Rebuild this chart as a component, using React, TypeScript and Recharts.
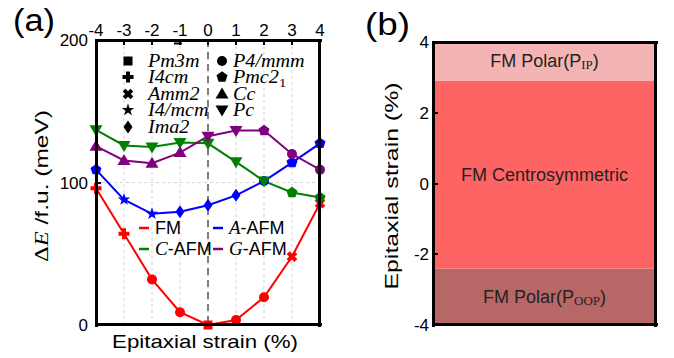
import React from 'react';
import { LineChart, ComposedChart, Line, Area, Scatter, XAxis, YAxis, CartesianGrid, ReferenceLine } from 'recharts';

const SANS = '"Liberation Sans", Arial, sans-serif';
const SERIF = '"Liberation Serif", "Times New Roman", serif';

// panel (a): energy vs strain
const strains = [-4, -3, -2, -1, 0, 1, 2, 3, 4];
const energyTicks = [0, 100, 200];
const fmEnergy = [96, 64, 32, 9, 0, 3.5, 19.5, 48, 85.5];
const aAfmEnergy = [109, 88, 78, 79.5, 84, 91, 101, 114, 127.5];
const cAfmEnergy = [137, 126, 125, 128, 127.5, 114.5, 101, 93, 89.5];
const gAfmEnergy = [125.5, 115.5, 113.5, 121, 132.5, 136.5, 136.5, 120, 109];

const fmMarkers = ['plus', 'plus', 'circle', 'circle', 'square', 'circle', 'circle', 'cross', 'cross'];
const aAfmMarkers = ['pentagon', 'star', 'star', 'diamond', 'diamond', 'diamond', 'circle', 'pentagon', 'pentagon'];
const cAfmMarkers = ['triDown', 'triDown', 'triDown', 'triDown', 'triDown', 'triDown', 'triDown', 'pentagon', 'pentagon'];
const gAfmMarkers = ['triUp', 'triUp', 'triUp', 'triUp', 'triDown', 'triDown', 'pentagon', 'circle', 'circle'];

const series = [
  { key: 'fm', label: 'FM', italic: '', color: '#ff0000', values: fmEnergy, markers: fmMarkers },
  { key: 'aafm', label: '-AFM', italic: 'A', color: '#0000ff', values: aAfmEnergy, markers: aAfmMarkers },
  { key: 'cafm', label: '-AFM', italic: 'C', color: '#008000', values: cAfmEnergy, markers: cAfmMarkers },
  { key: 'gafm', label: '-AFM', italic: 'G', color: '#800080', values: gAfmEnergy, markers: gAfmMarkers },
];

const spaceGroupsLeft = [
  { shape: 'square', name: 'Pm3m', sub: '' },
  { shape: 'plus', name: 'I4cm', sub: '' },
  { shape: 'cross', name: 'Amm2', sub: '' },
  { shape: 'star', name: 'I4/mcm', sub: '' },
  { shape: 'diamond', name: 'Ima2', sub: '' },
];
const spaceGroupsRight = [
  { shape: 'circle', name: 'P4/mmm', sub: '' },
  { shape: 'pentagon', name: 'Pmc2', sub: '1' },
  { shape: 'triUp', name: 'Cc', sub: '' },
  { shape: 'triDown', name: 'Pc', sub: '' },
];

// panel (b): phase ranges along strain
const strainTicks = [-4, -2, 0, 2, 4];
const phases = [
  { key: 'oop', name: 'FM Polar(P', sub: 'OOP', from: -4, to: -2.4, color: '#b86767' },
  { key: 'cen', name: 'FM Centrosymmetric', sub: '', from: -2.4, to: 2.9, color: '#ff6464' },
  { key: 'ip', name: 'FM Polar(P', sub: 'IP', from: 2.9, to: 4, color: '#f4b4b4' },
];

const chartData = strains.map((s, i) => {
  const row: Record<string, number> = { strain: s };
  series.forEach((sr) => { row[sr.key] = sr.values[i]; });
  return row;
});

const phaseData = [0, 1].map((x) => {
  const row: Record<string, any> = { x };
  phases.forEach((p) => { row[p.key] = [p.from, p.to]; });
  return row;
});
const phaseLabelData = phases.map((p) => ({ x: 0.5, mid: (p.from + p.to) / 2, name: p.name, sub: p.sub }));

// plot boxes (page pixels), shared by chart margins and the frames
const boxA = { left: 96, top: 40, right: 320, bottom: 325 };
const boxB = { left: 433, top: 42, right: 656, bottom: 325 };

function polygon(n: number, r: number, cx: number, cy: number, rot = -Math.PI / 2) {
  const pts: string[] = [];
  for (let i = 0; i < n; i++) {
    const a = rot + (i * 2 * Math.PI) / n;
    pts.push(`${cx + r * Math.cos(a)},${cy + r * Math.sin(a)}`);
  }
  return pts.join(' ');
}

function starPts(cx: number, cy: number, ro: number, ri: number) {
  const pts: string[] = [];
  for (let i = 0; i < 10; i++) {
    const a = -Math.PI / 2 + (i * Math.PI) / 5;
    const r = i % 2 === 0 ? ro : ri;
    pts.push(`${cx + r * Math.cos(a)},${cy + r * Math.sin(a)}`);
  }
  return pts.join(' ');
}

function plusPts(cx: number, cy: number, l: number, w: number) {
  const p = [
    [-w, -l], [w, -l], [w, -w], [l, -w], [l, w], [w, w], [w, l], [-w, l], [-w, w], [-l, w], [-l, -w], [-w, -w],
  ];
  return p.map(([x, y]) => `${cx + x},${cy + y}`).join(' ');
}

const Marker = ({ shape, cx, cy, color }: { shape: string; cx: number; cy: number; color: string }) => {
  if (cx == null || cy == null) return null;
  switch (shape) {
    case 'square':
      return <rect x={cx - 4.5} y={cy - 4.5} width={9} height={9} fill={color} />;
    case 'circle':
      return <circle cx={cx} cy={cy} r={5} fill={color} />;
    case 'plus':
      return <polygon points={plusPts(cx, cy, 5.5, 2)} fill={color} />;
    case 'cross':
      return <polygon points={plusPts(cx, cy, 5.5, 2)} fill={color} transform={`rotate(45 ${cx} ${cy})`} />;
    case 'star':
      return <polygon points={starPts(cx, cy, 6.5, 2.6)} fill={color} />;
    case 'diamond':
      return <polygon points={`${cx},${cy - 6.5} ${cx + 4.5},${cy} ${cx},${cy + 6.5} ${cx - 4.5},${cy}`} fill={color} />;
    case 'pentagon':
      return <polygon points={polygon(5, 5.8, cx, cy)} fill={color} />;
    case 'triUp':
      return <polygon points={`${cx},${cy - 6.5} ${cx + 6.5},${cy + 4.5} ${cx - 6.5},${cy + 4.5}`} fill={color} />;
    case 'triDown':
      return <polygon points={`${cx},${cy + 6.5} ${cx + 6.5},${cy - 4.5} ${cx - 6.5},${cy - 4.5}`} fill={color} />;
    default:
      return null;
  }
};

const TopTick = (props: any) => {
  const { x, y, payload } = props;
  return <text x={x} y={y} textAnchor="middle" fontSize={17} fontFamily={SANS} fill="#000">{payload.value}</text>;
};

const LeftTick = (props: any) => {
  const { x, y, payload } = props;
  return <text x={x} y={y} dy={6} textAnchor="end" fontSize={17} fontFamily={SANS} fill="#000">{payload.value}</text>;
};

const BandLabel = (props: any) => {
  const { cx, cy, payload } = props;
  if (cx == null || cy == null) return <g />;
  return (
    <text x={cx} y={cy + 6} textAnchor="middle" fontSize={18} fontFamily={SANS} fill="#222">
      {payload.name}
      {payload.sub ? (
        <>
          <tspan fontFamily={SERIF} fontSize={13} dy={2}>{payload.sub}</tspan>
          <tspan dy={-2}>)</tspan>
        </>
      ) : null}
    </text>
  );
};

const EnergyPanel = () => (
  <LineChart
    width={340}
    height={358}
    data={chartData}
    margin={{ top: boxA.top - 30, right: 340 - boxA.right, bottom: 358 - boxA.bottom, left: boxA.left - 40 }}
  >
    <CartesianGrid stroke="#d4d4d4" strokeDasharray="3 3" />
    <XAxis
      dataKey="strain"
      type="number"
      orientation="top"
      domain={[-4, 4]}
      ticks={strains}
      height={30}
      tickSize={0}
      tickMargin={4}
      axisLine={false}
      tick={<TopTick />}
    />
    <YAxis
      type="number"
      domain={[0, 200]}
      ticks={energyTicks}
      width={40}
      tickSize={0}
      tickMargin={8}
      axisLine={false}
      tick={<LeftTick />}
    />
    <ReferenceLine x={0} stroke="#808080" strokeWidth={2} strokeDasharray="7 5" />
    {series.map((s) => (
      <Line
        key={s.key}
        dataKey={s.key}
        type="linear"
        stroke={s.color}
        strokeWidth={2}
        isAnimationActive={false}
        dot={(p: any) => <Marker key={`${s.key}-${p.index}`} shape={s.markers[p.index]} cx={p.cx} cy={p.cy} color={s.color} />}
        activeDot={false}
      />
    ))}
  </LineChart>
);

const PhasePanel = () => (
  <ComposedChart
    width={334}
    height={358}
    data={phaseData}
    margin={{ top: boxB.top, right: 674 - boxB.right, bottom: 358 - boxB.bottom, left: boxB.left - 340 - 40 }}
  >
    <XAxis dataKey="x" type="number" domain={[0, 1]} hide />
    <YAxis
      type="number"
      domain={[-4, 4]}
      ticks={strainTicks}
      width={40}
      tickSize={0}
      tickMargin={4}
      axisLine={false}
      tick={<LeftTick />}
    />
    {phases.map((p) => (
      <Area
        key={p.key}
        dataKey={p.key}
        type="linear"
        fill={p.color}
        fillOpacity={1}
        stroke="none"
        isAnimationActive={false}
        dot={false}
        activeDot={false}
      />
    ))}
    <Scatter data={phaseLabelData} dataKey="mid" isAnimationActive={false} shape={<BandLabel />} />
  </ComposedChart>
);

// solid black bars laid over the plots: frame edges and inward tick marks
const Bar = ({ x, y, w, h }: { x: number; y: number; w: number; h: number }) => (
  <div
    style={{
      position: 'absolute',
      left: Math.round(x),
      top: Math.round(y),
      width: Math.round(w),
      height: Math.round(h),
      background: '#000',
      zIndex: 30,
      pointerEvents: 'none',
    }}
  />
);

const FrameBars = ({ box, id }: { box: typeof boxA; id: string }) => {
  const w = box.right - box.left;
  const h = box.bottom - box.top;
  return (
    <>
      <Bar key={`${id}l`} x={box.left - 1} y={box.top - 1} w={3} h={h + 3} />
      <Bar key={`${id}r`} x={box.right - 2} y={box.top - 1} w={3} h={h + 3} />
      <Bar key={`${id}t`} x={box.left - 1} y={box.top - 1} w={w + 3} h={3} />
      <Bar key={`${id}b`} x={box.left - 1} y={box.bottom - 2} w={w + 3} h={3} />
    </>
  );
};

const Overlay = () => {
  const rowY = [61, 77, 94, 110, 127];
  return (
    <svg width={674} height={358} style={{ position: 'absolute', left: 0, top: 0, zIndex: 10, pointerEvents: 'none' }}>
      <text x={13} y={31} fontSize={31} fontFamily={SANS} textLength={42} lengthAdjust="spacingAndGlyphs">(a)</text>
      <text x={365} y={35} fontSize={31} fontFamily={SANS} textLength={45} lengthAdjust="spacingAndGlyphs">(b)</text>

      <text transform="translate(48,186) rotate(-90)" textAnchor="middle" fontSize={19} fontFamily={SANS} textLength={152} lengthAdjust="spacingAndGlyphs">
        <tspan fontFamily={SERIF}>Δ</tspan>
        <tspan fontFamily={SERIF} fontStyle="italic">E</tspan>
        <tspan> /f.u. (meV)</tspan>
      </text>
      <text x={205} y={348} textAnchor="middle" fontSize={19} fontFamily={SANS} textLength={186} lengthAdjust="spacingAndGlyphs">Epitaxial strain (%)</text>
      <text transform="translate(398,186) rotate(-90)" textAnchor="middle" fontSize={19} fontFamily={SANS} textLength={207} lengthAdjust="spacingAndGlyphs">Epitaxial strain (%)</text>

      {spaceGroupsLeft.map((g, i) => (
        <g key={g.name}>
          <Marker shape={g.shape} cx={128} cy={rowY[i]} color="#000" />
          <text transform={`translate(148,${rowY[i] + 6}) scale(1.12,1)`} fontSize={18} fontFamily={SERIF} fontStyle="italic">{g.name}</text>
        </g>
      ))}
      <line x1={174} x2={182} y1={43.5} y2={43.5} stroke="#000" strokeWidth={2} />
      {spaceGroupsRight.map((g, i) => (
        <g key={g.name}>
          <Marker shape={g.shape} cx={222} cy={rowY[i]} color="#000" />
          <text transform={`translate(233,${rowY[i] + 6}) scale(1.12,1)`} fontSize={18} fontFamily={SERIF} fontStyle="italic">
            {g.name}
            {g.sub ? <tspan fontStyle="normal" fontSize={13} dy={4}>{g.sub}</tspan> : null}
          </text>
        </g>
      ))}

      {series.map((s, i) => {
        const x = i % 2 === 0 ? 139 : 213;
        const y = i < 2 ? 228 : 249;
        return (
          <g key={s.key}>
            <line x1={x} x2={x + 10} y1={y} y2={y} stroke={s.color} strokeWidth={2.5} />
            <text x={x + 16} y={y + 6} fontSize={18} fontFamily={SANS} fill="#000">
              {s.italic ? <tspan fontFamily={SERIF} fontStyle="italic" fontSize={19}>{s.italic}</tspan> : null}
              <tspan>{s.label}</tspan>
            </text>
          </g>
        );
      })}
    </svg>
  );
};

export default function App() {
  const xa = (s: number) => boxA.left + ((s + 4) / 8) * (boxA.right - boxA.left);
  const ya = (v: number) => boxA.bottom - (v / 200) * (boxA.bottom - boxA.top);
  const yb = (v: number) => boxB.bottom - ((v + 4) / 8) * (boxB.bottom - boxB.top);
  return (
    <div style={{ position: 'absolute', left: 0, top: 0, width: 674, height: 358, background: '#fff' }}>
      <div style={{ position: 'absolute', left: 0, top: 0, zIndex: 1 }}>
        <EnergyPanel />
      </div>
      <div style={{ position: 'absolute', left: 340, top: 0, zIndex: 1 }}>
        <PhasePanel />
      </div>
      <Overlay />
      <FrameBars box={boxA} id="a" />
      <FrameBars box={boxB} id="b" />
      {strains.slice(1, -1).map((s) => (
        <Bar key={`ta${s}`} x={xa(s) - 1} y={boxA.top} w={2} h={5} />
      ))}
      {energyTicks.slice(1, -1).map((v) => (
        <Bar key={`la${v}`} x={boxA.left} y={ya(v) - 1} w={5} h={2} />
      ))}
      {strainTicks.slice(1, -1).map((v) => (
        <Bar key={`lb${v}`} x={boxB.left} y={yb(v) - 1} w={5} h={2} />
      ))}
    </div>
  );
}
